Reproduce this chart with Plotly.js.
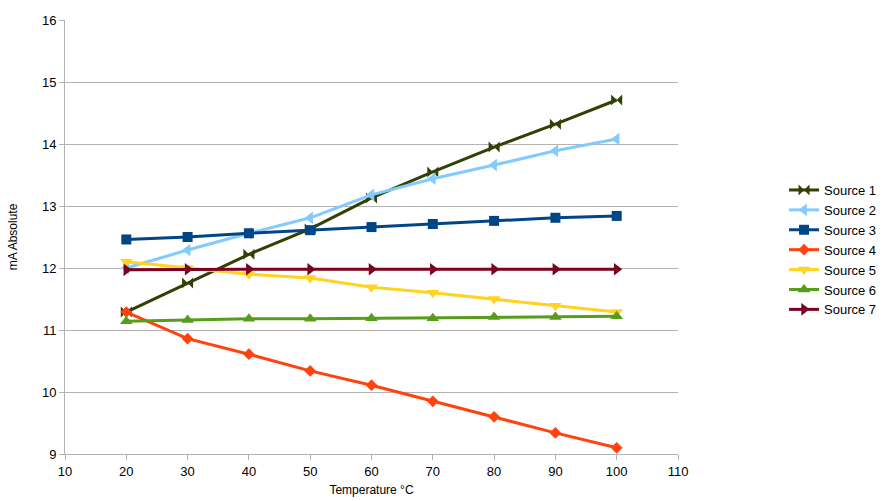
<!DOCTYPE html>
<html><head><meta charset="utf-8">
<script src="https://cdn.plot.ly/plotly-3.0.1.min.js"></script>
<style>html,body{margin:0;padding:0;background:#fff}#c{width:889px;height:501px}</style>
</head><body><div id="c"></div>
<script>
const temps = [20,30,40,50,60,70,80,90,100];
const names = ["Source 1","Source 2","Source 3","Source 4","Source 5","Source 6","Source 7"];
const s1 = [11.29,11.76,12.22,12.63,13.13,13.55,13.95,14.32,14.71];
const s2 = [12.0,12.29,12.56,12.81,13.18,13.44,13.66,13.89,14.08];
const s3 = [12.46,12.5,12.56,12.61,12.66,12.71,12.76,12.81,12.84];
const s4 = [11.29,10.86,10.61,10.34,10.11,9.85,9.6,9.34,9.1];
const s5 = [12.1,12.0,11.9,11.84,11.69,11.6,11.5,11.39,11.29];
const s6 = [11.14,11.16,11.18,11.18,11.19,11.19,11.21,11.21,11.22];
const s7 = [11.97,11.98,11.98,11.98,11.98,11.98,11.98,11.98,11.98];
const series = [s1,s2,s3,s4,s5,s6,s7];
const colors = ["#314004","#83caff","#004586","#ff420e","#ffd320","#579d1c","#7e0021"];
const symbols = ["bowtie","triangle-left","square","diamond","triangle-down","triangle-up","triangle-right"];
const sizes = [11,11,10,9,11,11,11];
const traces = series.map((s,i)=>({
  x: temps, y: s, name: names[i], type:"scatter", mode:"lines+markers",
  line:{color:colors[i], width:3},
  marker:{symbol:symbols[i], color:colors[i], size:sizes[i]}
}));
const grid = "#b3b3b3";
const layout = {
  width:889, height:501,
  margin:{l:65, r:211, t:20, b:47, autoexpand:false},
  paper_bgcolor:"#fff", plot_bgcolor:"#fff",
  font:{family:"Liberation Sans, Arial, sans-serif", size:13, color:"#000"},
  xaxis:{range:[10,110], dtick:10, tick0:10, showgrid:false, zeroline:false,
    showline:true, linecolor:grid, linewidth:1, ticks:"outside", ticklen:5, tickcolor:grid,
    title:{text:"Temperature °C", font:{size:12}, standoff:8}},
  yaxis:{range:[9,16], dtick:1, showgrid:true, gridcolor:grid, gridwidth:1, zeroline:false,
    showline:true, linecolor:grid, ticks:"outside", ticklen:5, tickcolor:grid,
    title:{text:"mA Absolute", font:{size:12}, standoff:21}},
  legend:{x:1.173, y:0.47, xanchor:"left", yanchor:"middle", font:{size:13},
    tracegroupgap:0, itemwidth:30, bgcolor:"rgba(0,0,0,0)"},
  showlegend:true
};
Plotly.newPlot("c", traces, layout, {displayModeBar:false, staticPlot:true});
</script></body></html>
